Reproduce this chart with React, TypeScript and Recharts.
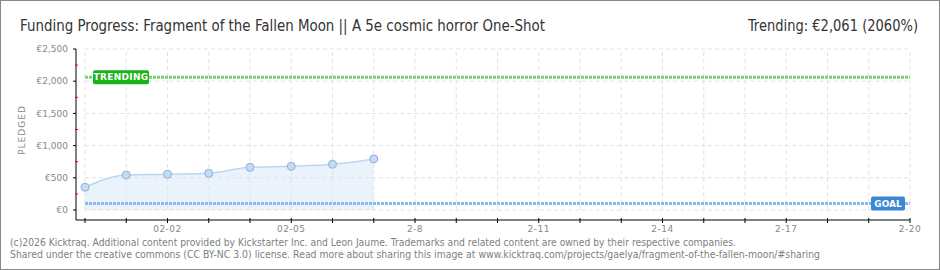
import React from "react";
import {
  ComposedChart,
  Area,
  XAxis,
  YAxis,
  ReferenceLine,
} from "recharts";

// one label per day, Jan 31 .. Feb 20 (only every 3rd shown)
const dayLabels = [
  "", "", "02-02", "", "", "02-05", "", "", "2-8", "", "",
  "2-11", "", "", "2-14", "", "", "2-17", "", "", "2-20",
];
const pledged = [353, 544, 555, 570, 663, 679, 710, 793];
const trending = 2061;
const goal = 100;
const yTicks = [0, 250, 500, 750, 1000, 1250, 1500, 1750, 2000, 2250, 2500];
const yMajor = [0, 500, 1000, 1500, 2000, 2500];

const data = pledged.map((v, i) => ({ day: i, pledged: v }));
const dayIdx = dayLabels.map((_, i) => i);

const pixelFont = "'DejaVu Sans', Verdana, sans-serif";
const titleFont = "'DejaVu Sans Condensed', 'DejaVu Sans', sans-serif";
const gridColor = "#e2e2e2";

const YTick = (props: any) => {
  const { x, y, payload } = props;
  const ax = x + 8;
  const major = payload.value % 500 === 0;
  return (
    <g>
      {major ? (
        <>
          <line x1={ax - 3} x2={ax} y1={y} y2={y} stroke="#000" />
          <text
            x={x}
            y={y}
            dy="0.35em"
            textAnchor="end"
            fontFamily={pixelFont}
            fontSize={9}
            fill="#888"
          >
            {"€" + payload.value.toLocaleString("en-US")}
          </text>
        </>
      ) : (
        <line x1={ax - 1} x2={ax + 2} y1={y} y2={y} stroke="#e00" />
      )}
    </g>
  );
};

const XTick = (props: any) => {
  const { x, y, payload } = props;
  const ay = y - 9;
  const label = dayLabels[payload.value];
  return (
    <g>
      <line x1={x} x2={x} y1={ay - 2} y2={ay + 3} stroke="#000" />
      {label && (
        <text
          x={x}
          y={y}
          dy="0.35em"
          textAnchor="middle"
          fontFamily={pixelFont}
          fontSize={9}
          letterSpacing={0.5}
          fill="#888"
        >
          {label}
        </text>
      )}
    </g>
  );
};

const TrendTag = (props: any) => {
  const { viewBox } = props;
  const bx = viewBox.x + 8;
  const by = viewBox.y - 7;
  return (
    <g>
      <rect x={bx} y={by} width={56} height={14} rx={2} fill="#19b319" />
      <text
        x={bx + 28}
        y={by + 7}
        dy="0.35em"
        textAnchor="middle"
        fontFamily={pixelFont}
        fontSize={9}
        fontWeight="bold"
        letterSpacing={0.3}
        fill="#fff"
      >
        TRENDING
      </text>
    </g>
  );
};

const GoalTag = (props: any) => {
  const { viewBox } = props;
  const bx = viewBox.x + viewBox.width - 39;
  const by = viewBox.y - 7;
  return (
    <g>
      <rect x={bx} y={by} width={34} height={14} rx={2} fill="#3a87d6" />
      <text
        x={bx + 17}
        y={by + 7}
        dy="0.35em"
        textAnchor="middle"
        fontFamily={pixelFont}
        fontSize={9}
        fontWeight="bold"
        fill="#fff"
      >
        GOAL
      </text>
    </g>
  );
};

export default function App() {
  return (
    <div style={{ position: "relative", width: 940, height: 270, background: "#fff" }}>
      <style>{"body{margin:0}"}</style>
      <ComposedChart
        width={940}
        height={270}
        data={data}
        margin={{ top: 49, right: 30, bottom: 20, left: 0 }}
      >
        <XAxis
          dataKey="day"
          type="number"
          domain={[0, 20]}
          ticks={dayIdx}
          interval={0}
          padding={{ left: 9, right: 0 }}
          height={30}
          tickSize={0}
          tickMargin={9}
          tick={<XTick />}
          axisLine={{ stroke: "#000" }}
          tickLine={false}
        />
        <YAxis
          type="number"
          domain={[0, 2500]}
          ticks={yTicks}
          interval={0}
          padding={{ top: 0, bottom: 10 }}
          width={76}
          tickSize={0}
          tickMargin={8}
          tick={<YTick />}
          axisLine={{ stroke: "#000" }}
          tickLine={false}
        />
        {dayIdx.map((d) => (
          <ReferenceLine
            key={"v" + d}
            segment={[{ x: d, y: 0 }, { x: d, y: 2500 }]}
            stroke={gridColor}
            strokeDasharray="4 3"
          />
        ))}
        {yMajor.map((v) => (
          <ReferenceLine
            key={"h" + v}
            segment={[{ x: 0, y: v }, { x: 20, y: v }]}
            stroke={gridColor}
            strokeDasharray="4 3"
          />
        ))}
        <Area
          type="monotone"
          dataKey="pledged"
          stroke="#bcd6f2"
          strokeWidth={1.5}
          fill="#eaf2fc"
          fillOpacity={1}
          dot={{ r: 4, fill: "#c3dbf5", stroke: "#8fb0d6", strokeWidth: 1 }}
          activeDot={false}
          isAnimationActive={false}
        />
        <ReferenceLine
          segment={[{ x: 0, y: trending }, { x: 20, y: trending }]}
          stroke="#7ccf7c"
          strokeWidth={3}
          strokeDasharray="3 1"
          label={<TrendTag />}
        />
        <ReferenceLine
          segment={[{ x: 0, y: goal }, { x: 20, y: goal }]}
          stroke="#8ab8ea"
          strokeWidth={3}
          strokeDasharray="3 1"
          label={<GoalTag />}
        />
      </ComposedChart>
      <svg
        width={940}
        height={270}
        style={{ position: "absolute", left: 0, top: 0, pointerEvents: "none" }}
      >
        <rect x={0.5} y={0.5} width={939} height={269} fill="none" stroke="#888" />
        <text
          x={20}
          y={31}
          fontFamily={titleFont}
          fontSize={15}
          fill="#333"
          textLength={525}
          lengthAdjust="spacingAndGlyphs"
        >
          Funding Progress: Fragment of the Fallen Moon || A 5e cosmic horror One-Shot
        </text>
        <text
          x={918}
          y={31}
          textAnchor="end"
          fontFamily={titleFont}
          fontSize={15}
          fill="#333"
          textLength={170}
          lengthAdjust="spacingAndGlyphs"
        >
          Trending: €2,061 (2060%)
        </text>
        <text
          x={22}
          y={130}
          transform="rotate(-90 22 130)"
          textAnchor="middle"
          dy="0.35em"
          fontFamily={pixelFont}
          fontSize={9}
          letterSpacing={1}
          fill="#888"
        >
          PLEDGED
        </text>
        <text
          x={10}
          y={246}
          fontFamily={pixelFont}
          fontSize={10}
          fill="#808080"
          textLength={726}
          lengthAdjust="spacingAndGlyphs"
        >
          (c)2026 Kicktraq. Additional content provided by Kickstarter Inc. and Leon Jaume. Trademarks and related content are owned by their respective companies.
        </text>
        <text
          x={10}
          y={258}
          fontFamily={pixelFont}
          fontSize={10}
          fill="#808080"
          textLength={810}
          lengthAdjust="spacingAndGlyphs"
        >
          Shared under the creative commons (CC BY-NC 3.0) license. Read more about sharing this image at www.kicktraq.com/projects/gaelya/fragment-of-the-fallen-moon/#sharing
        </text>
      </svg>
    </div>
  );
}
